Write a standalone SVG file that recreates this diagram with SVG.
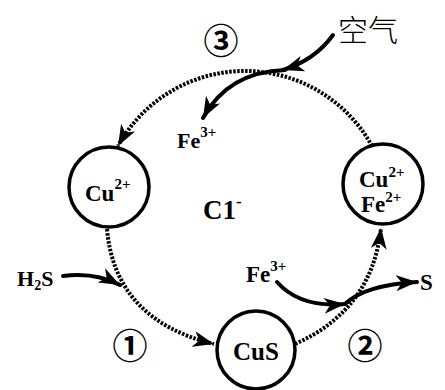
<svg xmlns="http://www.w3.org/2000/svg" width="445" height="390" viewBox="0 0 445 390">
<defs>
<marker id="ah" markerUnits="userSpaceOnUse" markerWidth="24" markerHeight="16" refX="21" refY="8" orient="auto">
<path d="M0,0 L21,8 L0,16 L6,8 Z" fill="#000"/>
</marker>
</defs>
<style>
.dot{fill:none;stroke:#000;stroke-width:4;stroke-dasharray:2.5 1.5}
.sol{fill:none;stroke:#000;stroke-width:4;stroke-linecap:round}
.node{fill:#fff;stroke:#000;stroke-width:3.5}
.t{font-family:"Liberation Serif",serif;font-weight:bold;fill:#000}
.n{font-family:"Noto Sans CJK SC",sans-serif;font-weight:bold;fill:#000}
</style>
<rect width="445" height="390" fill="#fff"/>
<g id="connectors">
<path class="dot" d="M372,146 A145,145 0 0 0 118,146" marker-end="url(#ah)"/>
<path class="dot" d="M107,229 Q115,320 214,344" marker-end="url(#ah)"/>
<path class="dot" d="M295,344 Q372,310 381,228" marker-end="url(#ah)"/>
<path class="sol" d="M333,35 Q315,60 283,70" marker-end="url(#ah)"/>
<path class="sol" d="M285,70 Q228,72 203,118" marker-end="url(#ah)"/>
<path class="sol" d="M63,276 Q95,272 120,285" marker-end="url(#ah)"/>
<path class="sol" d="M277,282 Q300,308 345,304" marker-end="url(#ah)"/>
<path class="sol" d="M345,304 Q365,285 417,282" marker-end="url(#ah)"/>
</g>
<g id="node-cu">
<circle class="node" cx="109" cy="187" r="40"/>
<text class="t" x="85" y="201" font-size="23">Cu<tspan font-size="15" dy="-12">2+</tspan></text>
</g>
<g id="node-cufe">
<circle class="node" cx="383" cy="184" r="40"/>
<text class="t" x="359" y="187" font-size="23">Cu<tspan font-size="15" dy="-10">2+</tspan></text>
<text class="t" x="361" y="212" font-size="23">Fe<tspan font-size="15" dy="-10">2+</tspan></text>
</g>
<g id="node-cus">
<circle class="node" cx="256" cy="350" r="39"/>
<text class="t" x="256" y="360" font-size="25" text-anchor="middle">CuS</text>
</g>
<g id="labels">
<text class="n" x="338" y="41" font-size="30" font-weight="normal" fill="#222" style="font-weight:300">空气</text>
<text class="n" x="221" y="54" font-size="35" text-anchor="middle">③</text>
<text class="n" x="130" y="359" font-size="35" text-anchor="middle">①</text>
<text class="n" x="365" y="359" font-size="35" text-anchor="middle">②</text>
<text class="t" x="177" y="148" font-size="22">Fe<tspan font-size="15" dy="-11">3+</tspan></text>
<text class="t" x="246" y="282" font-size="23">Fe<tspan font-size="15" dy="-11">3+</tspan></text>
<text class="t" x="203" y="219" font-size="27">C1<tspan font-size="17" dy="-12">-</tspan></text>
<text class="t" x="17" y="286" font-size="22">H<tspan font-size="14" dy="4">2</tspan><tspan dy="-4">S</tspan></text>
<text class="t" x="420" y="290" font-size="23">S</text>
</g>
</svg>
